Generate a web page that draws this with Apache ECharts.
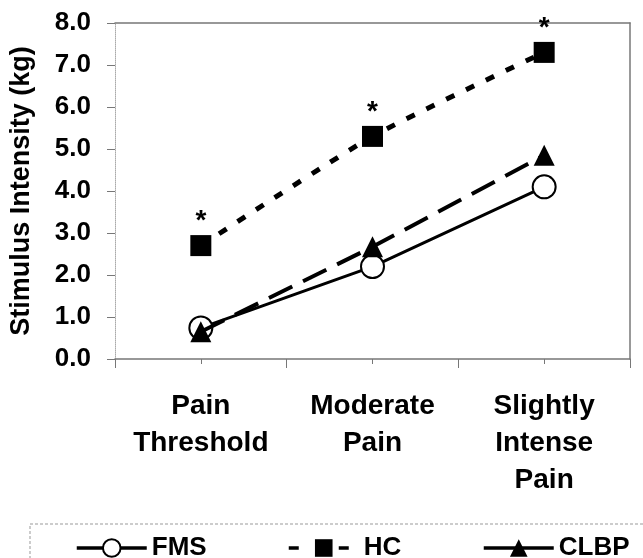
<!DOCTYPE html>
<html>
<head>
<meta charset="utf-8">
<script src="https://cdn.jsdelivr.net/npm/echarts@6/dist/echarts.min.js"></script>
<style>
html, body { margin: 0; padding: 0; background: #fff; }
#main { width: 643px; height: 558px; }
</style>
</head>
<body>
<div id="main"></div>
<script>
// data
var categories = ['Pain\nThreshold', 'Moderate\nPain', 'Slightly\nIntense\nPain'];
var fmsData = [0.74, 2.2, 4.1];
var hcData = [2.7, 5.3, 7.3];
var clbpData = [0.65, 2.67, 4.85];
var yTicks = [0, 1, 2, 3, 4, 5, 6, 7, 8];

var FontFamily = '"Liberation Sans", Arial, sans-serif';
var AxisGrey = '#777';

var Chart1 = echarts.init(document.getElementById('main'));

// one legend per item so each sits where the original put it
function legendAt(name, left, dash) {
	return {
		data: [name],
		left: left,
		top: 530,
		itemWidth: 70,
		itemHeight: 22,
		itemGap: 0,
		lineStyle: { width: 3.5, type: dash },
		textStyle: {
			fontFamily: FontFamily,
			fontWeight: 'bold',
			fontSize: 26,
			color: '#000'
		},
		selectedMode: false
	};
}

var option = {
	animation: false,
	backgroundColor: '#fff',
	grid: {
		left: 115,
		right: 13,
		top: 23,
		bottom: 199
	},
	legend: [
		legendAt('FMS', 70, 'solid'),
		legendAt('HC', 282, [10, 40]),
		legendAt('CLBP', 477, 'solid')
	],
	graphic: [{
		type: 'rect',
		shape: { x: 30, y: 524, width: 640, height: 50 },
		style: { fill: 'none', stroke: '#999', lineWidth: 1, lineDash: [3, 2] },
		silent: true
	}],
	xAxis: [{
		type: 'category',
		data: categories,
		boundaryGap: true,
		axisLine: { lineStyle: { color: AxisGrey, width: 1.5 } },
		axisTick: { show: true, interval: 0, alignWithLabel: false, length: 9, lineStyle: { color: AxisGrey } },
		axisLabel: {
			interval: 0,
			margin: 29,
			fontFamily: FontFamily,
			fontWeight: 'bold',
			fontSize: 28,
			lineHeight: 37,
			color: '#000'
		}
	}, {
		// short ticks under each point
		type: 'category',
		data: categories,
		position: 'bottom',
		boundaryGap: true,
		axisLine: { show: false },
		axisTick: { show: true, alignWithLabel: true, length: 5, lineStyle: { color: AxisGrey } },
		axisLabel: { show: false }
	}, {
		// top border of the plot box
		type: 'category',
		data: categories,
		position: 'top',
		axisLine: { lineStyle: { color: AxisGrey, width: 1.5 } },
		axisTick: { show: false },
		axisLabel: { show: false }
	}],
	yAxis: [{
		type: 'value',
		min: yTicks[0],
		max: yTicks[yTicks.length - 1],
		interval: 1,
		name: 'Stimulus Intensity (kg)',
		nameLocation: 'middle',
		nameGap: 80,
		nameTextStyle: {
			fontFamily: FontFamily,
			fontWeight: 'bold',
			fontSize: 27,
			color: '#000'
		},
		axisLine: { show: true, lineStyle: { color: '#aaa', type: 'dotted', width: 1 } },
		axisTick: { show: true, inside: false, length: 8, lineStyle: { color: AxisGrey } },
		splitLine: { show: false },
		axisLabel: {
			margin: 24,
			fontFamily: FontFamily,
			fontWeight: 'bold',
			fontSize: 26,
			color: '#000',
			formatter: function (v) { return v.toFixed(1); }
		}
	}, {
		// right border
		type: 'value',
		position: 'right',
		min: 0,
		max: 8,
		interval: 1,
		axisLine: { show: true, lineStyle: { color: AxisGrey, width: 1.5 } },
		axisTick: { show: false },
		axisLabel: { show: false },
		splitLine: { show: false }
	}],
	series: [{
		name: 'HC',
		type: 'line',
		data: hcData,
		smooth: 0.2,
		symbol: 'rect',
		symbolSize: 21,
		itemStyle: { color: '#000' },
		lineStyle: { color: '#000', width: 5, type: [9, 13] },
		label: {
			show: true,
			position: 'top',
			distance: 0,
			formatter: '*',
			fontFamily: FontFamily,
			fontWeight: 'bold',
			fontSize: 28,
			color: '#000'
		},
		z: 3
	}, {
		name: 'FMS',
		type: 'line',
		data: fmsData,
		symbol: 'circle',
		symbolSize: 23,
		itemStyle: { color: '#fff', borderColor: '#000', borderWidth: 2 },
		lineStyle: { color: '#000', width: 3 },
		z: 4
	}, {
		name: 'CLBP',
		type: 'line',
		data: clbpData,
		symbol: 'triangle',
		symbolSize: 21,
		itemStyle: { color: '#000' },
		lineStyle: { color: '#000', width: 4, type: [26, 12] },
		z: 5
	}]
};

Chart1.setOption(option, true);
</script>
</body>
</html>
